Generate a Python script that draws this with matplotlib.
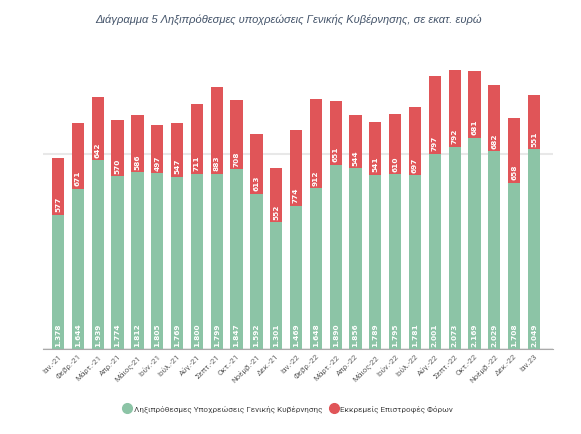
import matplotlib
matplotlib.use("Agg")
import matplotlib.pyplot as plt
from matplotlib.lines import Line2D
import numpy as np

categories = ["Ιαν.-21", "Φεβρ.-21", "Μάρτ.-21", "Απρ.-21", "Μάιος-21", "Ιούν.-21",
              "Ιούλ.-21", "Αύγ.-21", "Σεπτ.-21", "Οκτ.-21", "Νοέμβ.-21", "Δεκ.-21",
              "Ιαν.-22", "Φεβρ.-22", "Μάρτ.-22", "Απρ.-22", "Μάιος-22", "Ιούν.-22",
              "Ιούλ.-22", "Αύγ.-22", "Σεπτ.-22", "Οκτ.-22", "Νοέμβ.-22", "Δεκ.-22", "Ιαν.23"]
arrears = [1378, 1644, 1939, 1774, 1812, 1805, 1769, 1800, 1799, 1847, 1592, 1301,
           1469, 1648, 1890, 1856, 1789, 1795, 1781, 2001, 2073, 2169, 2029, 1708, 2049]
refunds = [577, 671, 642, 570, 586, 497, 547, 711, 883, 708, 613, 552,
           774, 912, 651, 544, 541, 610, 697, 797, 792, 681, 682, 658, 551]
series_names = ["Ληξιπρόθεσμες Υποχρεώσεις Γενικής Κυβέρνησης", "Εκκρεμείς Επιστροφές Φόρων"]

GREEN = "#8cc4a6"
RED = "#e05558"

W, H = 581, 434
fig = plt.figure(figsize=(W / 100, H / 100), dpi=100)
left, right = 43, 553
bottom_px, top_px = 349.3, 56.4
ax = fig.add_axes([left / W, (H - bottom_px) / H, (right - left) / W, (bottom_px - top_px) / H])

x = np.arange(len(categories))
bw = 0.62
ax.bar(x, arrears, width=bw, color=GREEN, zorder=3, linewidth=0)
ax.bar(x, refunds, width=bw, bottom=arrears, color=RED, zorder=3, linewidth=0)

def fmt(v):
    return f"{v:,}".replace(",", ".")

for xi, a, r in zip(x, arrears, refunds):
    ax.text(xi, 25, fmt(a), rotation=90, ha="center", va="bottom", color="white",
            fontsize=5.3, fontweight="bold", family="DejaVu Sans", zorder=4)
    ax.text(xi, a + 25, fmt(r), rotation=90, ha="center", va="bottom", color="white",
            fontsize=5.3, fontweight="bold", family="DejaVu Sans", zorder=4)

ax.set_xlim(-0.76, 24.96)
ax.set_ylim(0, 3000)
ax.set_yticks([0, 2000])
ax.yaxis.grid(True, color="#e8e8e8", linewidth=1.5, zorder=0)
ax.tick_params(axis="y", length=0, labelleft=False)
for s in ["top", "right", "left"]:
    ax.spines[s].set_visible(False)
ax.spines["bottom"].set_color("#aaaaaa")
ax.spines["bottom"].set_linewidth(0.8)
ax.spines["bottom"].set_zorder(5)

ax.set_xticks(x)
ax.set_xticklabels(categories, rotation=45, ha="right", rotation_mode="anchor",
                   fontsize=5.7, color="#606060", family="Roboto")
ax.tick_params(axis="x", length=0, pad=3)

fig.text(0.497, 1 - 20 / H, "Διάγραμμα 5 Ληξιπρόθεσμες υποχρεώσεις Γενικής Κυβέρνησης, σε εκατ. ευρώ",
         ha="center", va="center", fontsize=8, style="italic", color="#44546a",
         family="Liberation Sans")

handles = [Line2D([0], [0], marker="o", linestyle="", markersize=7, markerfacecolor=GREEN,
                  markeredgecolor=GREEN),
           Line2D([0], [0], marker="o", linestyle="", markersize=7, markerfacecolor=RED,
                  markeredgecolor=RED)]
fig.legend(handles, series_names, loc="center", bbox_to_anchor=(288 / W, (H - 409) / H),
           ncol=2, frameon=False, handletextpad=0.3, columnspacing=0.9,
           prop={"family": "Roboto", "size": 5.9}, labelcolor="#444444", handlelength=1.0)

fig.savefig("out.png", dpi=100, facecolor="white")
